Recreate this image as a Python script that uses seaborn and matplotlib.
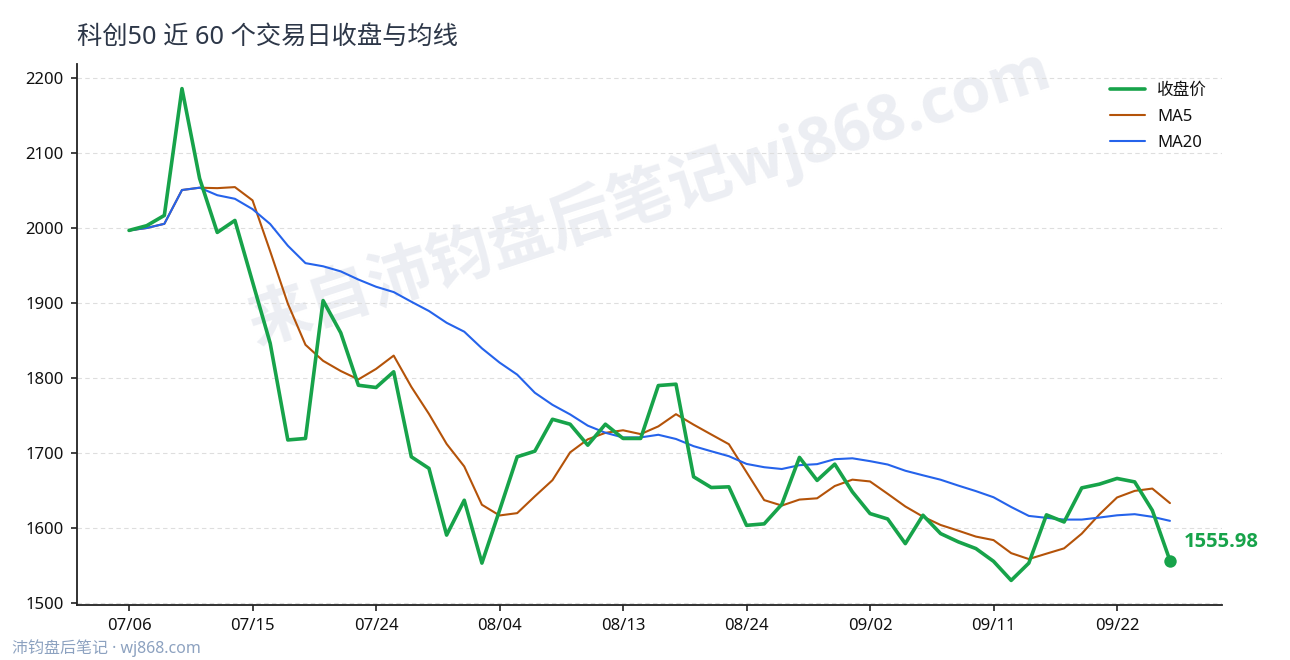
import matplotlib
matplotlib.use("Agg")
import matplotlib.pyplot as plt
import seaborn as sns
import pandas as pd

# ---- data ----
dates = ["07/06", "07/07", "07/08", "07/09", "07/10", "07/13", "07/14", "07/15", "07/16", "07/17",
         "07/20", "07/21", "07/22", "07/23", "07/24", "07/27", "07/28", "07/29", "07/30", "07/31",
         "08/03", "08/04", "08/05", "08/06", "08/07", "08/10", "08/11", "08/12", "08/13", "08/14",
         "08/17", "08/18", "08/19", "08/20", "08/21", "08/24", "08/25", "08/26", "08/27", "08/28",
         "08/31", "09/01", "09/02", "09/03", "09/04", "09/07", "09/08", "09/09", "09/10", "09/11",
         "09/14", "09/15", "09/16", "09/17", "09/18", "09/21", "09/22", "09/23", "09/24", "09/25"]

close = [1996.7, 2003.0, 2016.7, 2186.0, 2066.0, 1994.0, 2010.0, 1928.0, 1846.0, 1717.0,
         1719.0, 1903.0, 1860.0, 1790.0, 1787.0, 1808.0, 1694.5, 1679.0, 1590.0, 1636.5,
         1552.6, 1623.0, 1694.5, 1702.0, 1744.6, 1738.0, 1710.0, 1738.0, 1719.0, 1719.0,
         1789.6, 1791.4, 1667.8, 1653.5, 1654.4, 1603.0, 1605.0, 1631.0, 1693.7, 1663.0,
         1684.7, 1647.7, 1618.7, 1611.5, 1578.6, 1616.5, 1592.0, 1581.0, 1572.0, 1555.0,
         1529.5, 1552.6, 1617.0, 1607.5, 1653.0, 1658.0, 1665.6, 1661.0, 1623.0, 1555.98]

ma5 = [1996.7, 1999.9, 2005.5, 2050.6, 2053.7, 2053.1, 2054.5, 2036.8, 1968.8, 1899.0,
       1844.0, 1822.6, 1809.0, 1797.8, 1811.8, 1829.6, 1787.9, 1751.7, 1711.7, 1681.6,
       1630.5, 1616.2, 1619.3, 1641.7, 1663.3, 1700.4, 1717.8, 1726.5, 1729.9, 1724.8,
       1735.1, 1751.4, 1737.4, 1724.3, 1711.3, 1674.0, 1636.7, 1629.4, 1637.4, 1639.1,
       1655.5, 1664.0, 1661.6, 1645.1, 1628.2, 1614.6, 1603.5, 1595.9, 1588.0, 1583.3,
       1565.9, 1558.0, 1565.2, 1572.3, 1591.9, 1617.6, 1640.2, 1649.0, 1652.1, 1632.7]

ma20 = [1996.7, 1999.9, 2005.5, 2050.6, 2053.7, 2043.7, 2038.9, 2025.1, 2005.2, 1976.3,
        1953.0, 1948.8, 1942.0, 1931.1, 1921.5, 1914.4, 1901.5, 1889.1, 1873.4, 1861.5,
        1839.3, 1820.3, 1804.2, 1780.0, 1763.9, 1751.1, 1736.1, 1726.6, 1720.3, 1720.4,
        1723.9, 1718.3, 1708.7, 1701.9, 1695.3, 1685.0, 1680.6, 1678.2, 1683.3, 1684.7,
        1691.3, 1692.5, 1688.7, 1684.2, 1675.9, 1669.8, 1663.9, 1656.1, 1648.7, 1640.5,
        1627.5, 1615.6, 1613.0, 1610.7, 1610.7, 1613.4, 1616.4, 1617.9, 1614.4, 1609.0]

series_names = ["收盘价", "MA5", "MA20"]
tick_every = 7
title = "科创50 近 60 个交易日收盘与均线"
watermark = "来自沛钧盘后笔记wj868.com"
footer = "沛钧盘后笔记 · wj868.com"

# ---- styling ----
sns.set_theme(style="white")
plt.rcParams["font.family"] = ["Noto Sans", "Noto Sans CJK SC", "DejaVu Sans"]
plt.rcParams["axes.unicode_minus"] = False
BOLD_FAMILY = ["Open Sans", "Noto Sans CJK SC", "DejaVu Sans"]

GREEN = "#17a34a"
ORANGE = "#b45309"
BLUE = "#2563eb"

df = pd.DataFrame({"idx": range(len(dates)), "date": dates,
                   "close": close, "ma5": ma5, "ma20": ma20})

fig = plt.figure(figsize=(12.9, 6.6), dpi=100)
ax = fig.add_axes([77 / 1290, 55 / 660, (1222 - 77) / 1290, (605 - 64) / 660])

sns.lineplot(data=df, x="idx", y="close", ax=ax, color=GREEN, linewidth=2.6,
             label=series_names[0], zorder=4)
sns.lineplot(data=df, x="idx", y="ma5", ax=ax, color=ORANGE, linewidth=1.5,
             label=series_names[1], zorder=3)
sns.lineplot(data=df, x="idx", y="ma20", ax=ax, color=BLUE, linewidth=1.5,
             label=series_names[2], zorder=3)

# last point marker + label
last = df.iloc[-1]
ax.scatter([last["idx"]], [last["close"]], s=80, color=GREEN, zorder=5, linewidths=0)
ax.annotate(f"{last['close']:.2f}", xy=(last["idx"], last["close"]),
            xytext=(10, 13.5), textcoords="offset points", ha="left", va="center",
            fontsize=14.5, fontweight="bold", color=GREEN, family=BOLD_FAMILY)

# axes formatting
ax.margins(x=0.05, y=0.05)
ax.set_yticks(range(1500, 2201, 100))
tick_idx = list(range(0, len(dates), tick_every))
ax.set_xticks(tick_idx)
ax.set_xticklabels([dates[i] for i in tick_idx])
ax.set_xlabel("")
ax.set_ylabel("")
ax.tick_params(axis="both", labelsize=12, colors="#222222", length=4.5, width=1.2,
               direction="out", bottom=True, left=True, pad=5)
for lab in ax.get_xticklabels() + ax.get_yticklabels():
    lab.set_color("#111111")
ax.grid(axis="y", linestyle=(0, (4, 3)), color="#dedede", linewidth=0.8)
ax.grid(axis="x", visible=False)
for s in ["top", "right"]:
    ax.spines[s].set_visible(False)
for s in ["left", "bottom"]:
    ax.spines[s].set_color("#222222")
    ax.spines[s].set_linewidth(1.3)

leg = ax.legend(loc="upper right", frameon=False, fontsize=12, handlelength=2.1,
                bbox_to_anchor=(1.0, 0.993), labelspacing=0.6, handletextpad=0.7)
for t in leg.get_texts():
    t.set_color("#111111")

# watermark
ax.text(0.5, 0.755, watermark, transform=ax.transAxes, rotation=18,
        ha="center", va="center", rotation_mode="anchor", fontsize=45.5,
        fontweight="bold", color="#eceef3", zorder=0.5, family=BOLD_FAMILY)

# title and footer
fig.text(77 / 1290, 1 - 37 / 660, title, ha="left", va="center", fontsize=18.2, color="#2d3748")
fig.text(12 / 1290, 1 - 648 / 660, footer, ha="left", va="center", fontsize=11.5, color="#8da2c0")

fig.savefig("out.png", dpi=100)
